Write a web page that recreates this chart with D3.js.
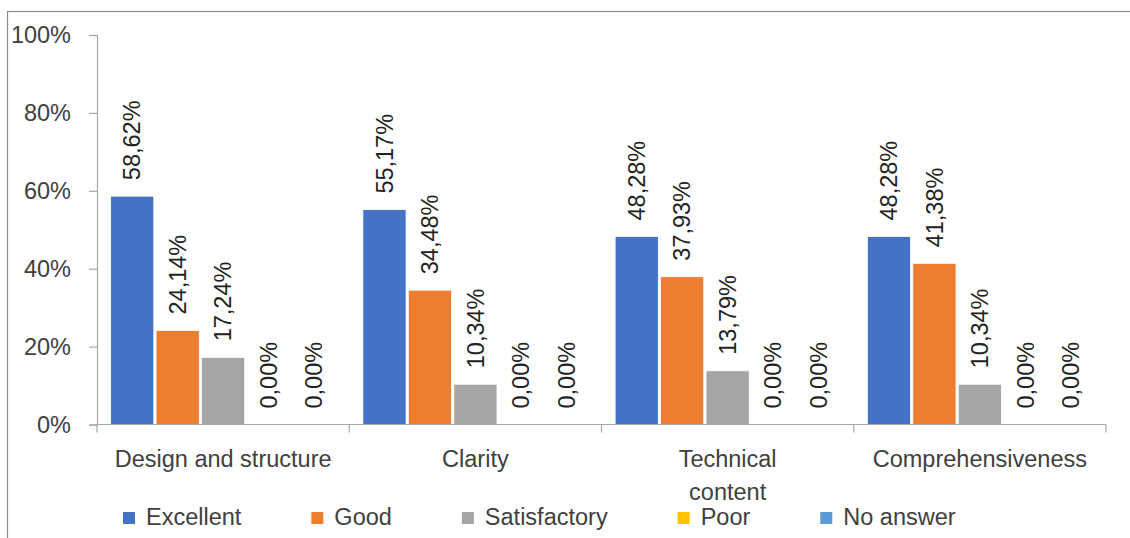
<!DOCTYPE html>
<html>
<head>
<meta charset="utf-8">
<script src="https://cdn.jsdelivr.net/npm/d3@7"></script>
<style>
  html, body { margin: 0; padding: 0; background: #fff; }
  svg { display: block; }
  text { font-family: "Liberation Sans", Arial, sans-serif; }
</style>
</head>
<body>
<svg id="chart" width="1130" height="538"></svg>
<script>
// ---- data ----
const categories = ["Design and structure", "Clarity", "Technical content", "Comprehensiveness"];
const categoryLines = [["Design and structure"], ["Clarity"], ["Technical", "content"], ["Comprehensiveness"]];
const seriesNames = ["Excellent", "Good", "Satisfactory", "Poor", "No answer"];
const excellent = [58.62, 55.17, 48.28, 48.28];
const good = [24.14, 34.48, 37.93, 41.38];
const satisfactory = [17.24, 10.34, 13.79, 10.34];
const poor = [0.00, 0.00, 0.00, 0.00];
const noAnswer = [0.00, 0.00, 0.00, 0.00];
const yTicks = [0, 20, 40, 60, 80, 100];
const colors = ["#4472C4", "#ED7D31", "#A5A5A5", "#FFC000", "#5B9BD5"];

const seriesValues = [excellent, good, satisfactory, poor, noAnswer];

// ---- layout ----
const svg = d3.select("#chart");
const plotLeft = 97, plotRight = 1106, plotTop = 35, plotBottom = 424.5;
const fs = 23.5;
const textColor = "#404040";
const axisColor = "#a6a6a6";

// outer frame (cut off at right/bottom as in the reference)
svg.append("rect").attr("x", 7.5).attr("y", 11.5).attr("width", 1300).attr("height", 700)
  .attr("fill", "none").attr("stroke", "#8c8c8c").attr("stroke-width", 1.2);

const x0 = d3.scaleBand().domain(categories).range([plotLeft, plotRight]).paddingInner(0).paddingOuter(0);
const x1 = d3.scaleBand().domain(seriesNames).range([0, x0.bandwidth()]).paddingInner(0.05).paddingOuter(0.3);
const y = d3.scaleLinear().domain([0, 100]).range([plotBottom, plotTop]);

// y axis
const yAxis = d3.axisLeft(y).tickValues(yTicks).tickSize(8).tickPadding(18).tickFormat(d => d + "%");
const yg = svg.append("g").attr("transform", `translate(${plotLeft},0)`).call(yAxis);
yg.select(".domain").attr("stroke", axisColor).attr("stroke-width", 1.2);
yg.selectAll(".tick line").attr("stroke", axisColor).attr("stroke-width", 1.2);
yg.selectAll(".tick text").attr("font-size", fs).attr("fill", textColor)
  .attr("font-family", '"Liberation Sans", Arial, sans-serif');

// bars
const groups = svg.append("g").selectAll("g").data(categories).join("g")
  .attr("transform", d => `translate(${x0(d)},0)`);

seriesNames.forEach((s, si) => {
  groups.append("rect")
    .attr("x", x1(s))
    .attr("y", (d, ci) => y(seriesValues[si][ci]))
    .attr("width", x1.bandwidth())
    .attr("height", (d, ci) => y(0) - y(seriesValues[si][ci]))
    .attr("fill", colors[si])
    .attr("stroke", "#fff").attr("stroke-width", 0.8);
});

// data labels
const fmt = v => v.toFixed(2).replace(".", ",") + "%";
seriesNames.forEach((s, si) => {
  groups.append("text")
    .attr("transform", (d, ci) => `translate(${x1(s) + x1.bandwidth() / 2},${y(seriesValues[si][ci]) - 16}) rotate(-90)`)
    .attr("dy", "0.35em")
    .attr("text-anchor", "start")
    .attr("font-size", fs)
    .attr("fill", "#222")
    .text((d, ci) => fmt(seriesValues[si][ci]));
});

// x axis line and boundary ticks
svg.append("line").attr("x1", plotLeft).attr("x2", plotRight).attr("y1", y(0)).attr("y2", y(0))
  .attr("stroke", axisColor).attr("stroke-width", 1.2);
const boundaries = categories.map(c => x0(c)).concat([x0(categories[categories.length - 1]) + x0.bandwidth()]);
svg.append("g").selectAll("line").data(boundaries).join("line")
  .attr("x1", d => d).attr("x2", d => d).attr("y1", y(0)).attr("y2", y(0) + 8)
  .attr("stroke", axisColor).attr("stroke-width", 1.2);

// category labels
categories.forEach((c, ci) => {
  const cx = x0(c) + x0.bandwidth() / 2;
  const t = svg.append("text").attr("x", cx).attr("y", 467)
    .attr("text-anchor", "middle").attr("font-size", fs).attr("fill", textColor);
  categoryLines[ci].forEach((line, li) => {
    t.append("tspan").attr("x", cx).attr("dy", li === 0 ? 0 : 33).text(line);
  });
});

// legend
const legend = svg.append("g");
let lx = 123;
seriesNames.forEach((s, si) => {
  legend.append("rect").attr("x", lx).attr("y", 512).attr("width", 12).attr("height", 12).attr("fill", colors[si]);
  const t = legend.append("text").attr("x", lx + 23).attr("y", 524.5).attr("font-size", fs).attr("fill", textColor).text(s);
  lx += 23 + t.node().getComputedTextLength() + 70;
});
</script>
</body>
</html>
